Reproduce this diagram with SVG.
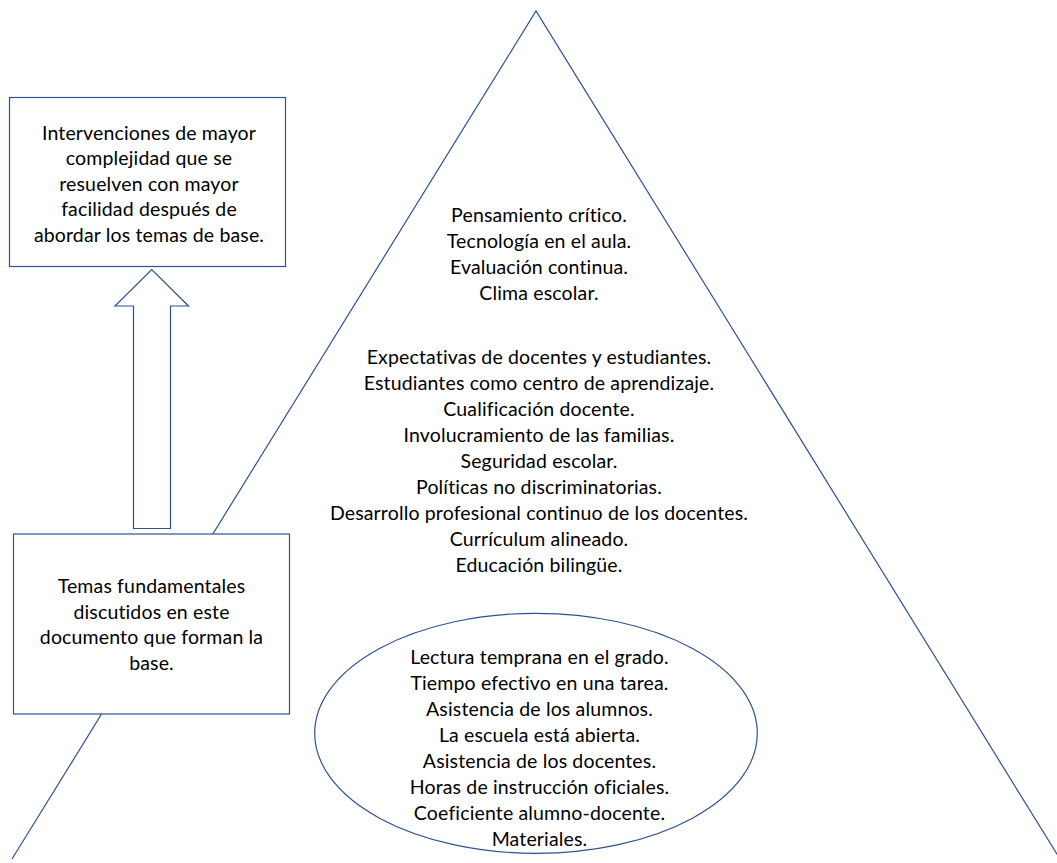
<svg xmlns="http://www.w3.org/2000/svg" width="1057" height="863" viewBox="0 0 1057 863">
<style>
.shape{fill:#fff;stroke:#2F528F;stroke-width:1.2}
.line{fill:none;stroke:#2F528F;stroke-width:1.2}
text{font-family:Lato,"Liberation Sans",sans-serif;font-size:19.5px;letter-spacing:0.15px;fill:#000;text-anchor:middle}
</style>
<rect width="1057" height="863" fill="#fff"/>
<g id="pyramid">
<polyline class="line" points="12,859 536,11 1060,859"/>
</g>
<g id="connectors">
<path id="up-arrow" class="shape" d="M133.5,528.5 L133.5,306 L115,306 L151.7,269.5 L188.5,306 L170.5,306 L170.5,528.5 Z"/>
</g>
<g id="top-box">
<rect class="shape" x="9.5" y="97.5" width="276" height="169"/>
<text x="149" y="139.5">Intervenciones de mayor</text>
<text x="149" y="165">complejidad que se</text>
<text x="149" y="190.5">resuelven con mayor</text>
<text x="149" y="216">facilidad después de</text>
<text x="149" y="241.5">abordar los temas de base.</text>
</g>
<g id="base-box">
<rect class="shape" x="13.5" y="534" width="276" height="180"/>
<text x="151.5" y="593">Temas fundamentales</text>
<text x="151.5" y="618.5">discutidos en este</text>
<text x="151.5" y="644">documento que forman la</text>
<text x="151.5" y="669.5">base.</text>
</g>
<g id="top-tier">
<text x="539" y="222">Pensamiento crítico.</text>
<text x="539" y="248">Tecnología en el aula.</text>
<text x="539" y="274">Evaluación continua.</text>
<text x="539" y="300">Clima escolar.</text>
</g>
<g id="middle-tier">
<text x="539" y="364">Expectativas de docentes y estudiantes.</text>
<text x="539" y="390">Estudiantes como centro de aprendizaje.</text>
<text x="539" y="416">Cualificación docente.</text>
<text x="539" y="442">Involucramiento de las familias.</text>
<text x="539" y="468">Seguridad escolar.</text>
<text x="539" y="494">Políticas no discriminatorias.</text>
<text x="539" y="520">Desarrollo profesional continuo de los docentes.</text>
<text x="539" y="546">Currículum alineado.</text>
<text x="539" y="572">Educación bilingüe.</text>
</g>
<g id="base-ellipse">
<ellipse class="shape" cx="536" cy="733.3" rx="221.3" ry="120"/>
<text x="539.5" y="663.5">Lectura temprana en el grado.</text>
<text x="539.5" y="689.5">Tiempo efectivo en una tarea.</text>
<text x="539.5" y="715.5">Asistencia de los alumnos.</text>
<text x="539.5" y="741.5">La escuela está abierta.</text>
<text x="539.5" y="767.5">Asistencia de los docentes.</text>
<text x="539.5" y="793.5">Horas de instrucción oficiales.</text>
<text x="539.5" y="819.5">Coeficiente alumno-docente.</text>
<text x="539.5" y="845.5">Materiales.</text>
</g>
</svg>
